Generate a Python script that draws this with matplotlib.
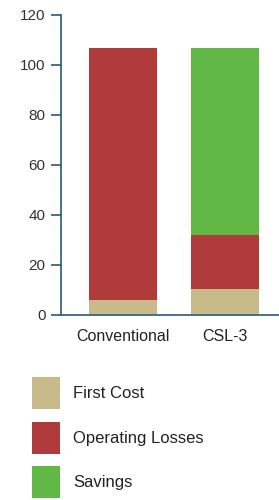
import matplotlib
matplotlib.use("Agg")
import matplotlib.pyplot as plt
from matplotlib import font_manager as fm
from matplotlib.transforms import ScaledTranslation
import numpy as np

categories = ["Conventional", "CSL-3"]
series_names = ["First Cost", "Operating Losses", "Savings"]
first_cost = [6, 10.5]
operating_losses = [101, 21.5]
savings = [0, 75]
yticks = [0, 20, 40, 60, 80, 100, 120]

colors = ["#C9BA8C", "#B03B3D", "#62B846"]
spine_col = "#2B5A7A"

names = {f.name for f in fm.fontManager.ttflist}
if "Liberation Sans Narrow" in names:
    lab_font = {"family": ["Liberation Sans Narrow", "DejaVu Sans"], "size": 14}
    tick_font = {"family": ["Liberation Sans Narrow", "DejaVu Sans"], "size": 13}
else:
    lab_font = {"family": ["Liberation Sans", "DejaVu Sans"], "size": 12}
    tick_font = {"family": ["Liberation Sans", "DejaVu Sans"], "size": 11}
xlab_font = dict(lab_font)
xlab_font["size"] = lab_font["size"] - 0.5

W, H = 279, 500
fig = plt.figure(figsize=(W / 100, H / 100), dpi=100)
ax = fig.add_axes([61 / W, 1 - 315 / H, (W - 61) / W, 300 / H])

x = np.arange(len(categories))
bw = 0.66
b1 = ax.bar(x, first_cost, bw, color=colors[0], label=series_names[0])
bottom2 = np.array(first_cost)
b2 = ax.bar(x, operating_losses, bw, bottom=bottom2, color=colors[1], label=series_names[1])
bottom3 = bottom2 + np.array(operating_losses)
b3 = ax.bar(x, savings, bw, bottom=bottom3, color=colors[2], label=series_names[2])

ax.set_ylim(0, 120)
ax.set_xlim(-0.609, 1.53)
ax.set_yticks(yticks)
ax.set_yticklabels([str(t) for t in yticks], color="#333333", **tick_font)
ax.set_xticks(x)
ax.set_xticklabels(categories, color="#222222", **xlab_font)
offsets = [1.5, -5]
for lab, dx in zip(ax.get_xticklabels(), offsets):
    lab.set_transform(lab.get_transform() + ScaledTranslation(dx / 100, 0, fig.dpi_scale_trans))
for s in ["top", "right"]:
    ax.spines[s].set_visible(False)
for s in ["left", "bottom"]:
    ax.spines[s].set_color(spine_col)
    ax.spines[s].set_linewidth(1.2)
ax.tick_params(axis="y", direction="out", length=7.5, width=1.2, color=spine_col, pad=3.5)
ax.tick_params(axis="x", length=0, pad=10)

fs_px = lab_font["size"] * 100 / 72
hh = (32 / fs_px - 0.245) / 0.65
fig.legend(handles=[b1, b2, b3], labels=series_names, loc="upper left",
           bbox_to_anchor=(32 / W, 1 - 377 / H), bbox_transform=fig.transFigure,
           frameon=False, prop=lab_font,
           handlelength=28 / fs_px, handleheight=hh, labelspacing=12.5 / fs_px,
           handletextpad=13 / fs_px, borderpad=0, borderaxespad=0, labelcolor="#222222")

fig.savefig("out.png", dpi=100, facecolor="white")
